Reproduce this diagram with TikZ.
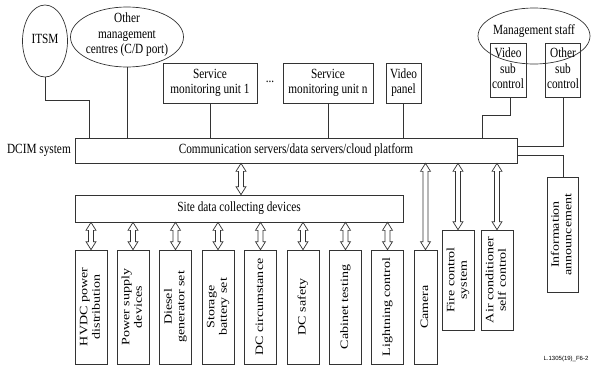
\documentclass[tikz,border=0pt]{standalone}
\usepackage{fontspec}
\setmainfont{Liberation Serif}
\usepackage{graphicx}
\usetikzlibrary{shapes.geometric,calc}
\newcommand\hlab[1]{\scalebox{1}[1.24]{\begin{tabular}{@{}c@{}}#1\end{tabular}}}
\newcommand\vlab[1]{\scalebox{1.24}[1]{\begin{tabular}{@{}c@{}}#1\end{tabular}}}
\tikzset{
  ln/.style={draw=black!80, line width=0.7pt},
  box/.style={ln, rectangle, inner sep=0pt, font=\fontsize{11.3}{12.5}\selectfont},
  ell/.style={ln, ellipse, inner sep=0pt, font=\fontsize{11.3}{12.5}\selectfont},
  lab/.style={inner sep=0pt, font=\fontsize{11.3}{12.5}\selectfont},
  dev/.style={box, minimum width=32pt, minimum height=114pt},
  vt/.style={rotate=90},
  darr/.style={to path={let \p1=(\tikztostart), \p2=(\tikztotarget) in
    (\x1,\y1) -- (\x1+5pt,\y1-8pt) -- (\x1+2.5pt,\y1-8pt) -- (\x1+2.5pt,\y2+8pt)
    -- (\x1+5pt,\y2+8pt) -- (\x1,\y2) -- (\x1-5pt,\y2+8pt) -- (\x1-2.5pt,\y2+8pt)
    -- (\x1-2.5pt,\y1-8pt) -- (\x1-5pt,\y1-8pt) -- cycle}}
}
\begin{document}
\begin{tikzpicture}[x=1pt,y=-1pt]
\useasboundingbox (0,0) rectangle (592,367);
% top ellipses
\node[ell, minimum width=45pt, minimum height=72pt] (itsm) at (45,41) {};
\node[lab] (itsmt) at (45,40) {\hlab{ITSM}};
\node[ell, minimum width=113pt, minimum height=60pt] (omc) at (127,37) {};
\node[lab] (omct) at (127,35) {\hlab{Other\\management\\centres (C/D port)}};
% service units
\node[box, minimum width=94pt, minimum height=40pt] (sm1) at (210,83) {\hlab{Service\\monitoring unit 1}};
\node[lab] (dots) at (270,79) {\hlab{...}};
\node[box, minimum width=90pt, minimum height=40pt] (smn) at (328,83) {\hlab{Service\\monitoring unit n}};
\node[box, minimum width=35pt, minimum height=40pt] (vp) at (403.5,83) {\hlab{Video\\panel}};
% management staff
\node[ell, minimum width=112pt, minimum height=56pt] (ms) at (534,36) {};
\node[lab] (mst) at (534,31) {\hlab{Management staff}};
\node[box, minimum width=36pt, minimum height=54pt] (vsc) at (508,70) {\hlab{Video\\sub\\control}};
\node[box, minimum width=35pt, minimum height=54pt] (osc) at (563,70) {\hlab{Other\\sub\\control}};
% main bar
\node[box, minimum width=442pt, minimum height=25pt] (bar) at (296,150.5) {\hlab{Communication servers/data servers/cloud platform}};
\node[lab, anchor=east] (dcim) at (71,150) {\hlab{DCIM system}};
\node[box, minimum width=328pt, minimum height=27pt] (site) at (239,208.5) {\hlab{Site data collecting devices}};
% devices
\node[dev] (d1) at (91,307) {};
\node[lab, vt] at (d1) {\vlab{HVDC power\\distribution}};
\node[dev] (d2) at (133,307) {};
\node[lab, vt] at (d2) {\vlab{Power supply\\devices}};
\node[dev] (d3) at (175.5,307) {};
\node[lab, vt] at (d3) {\vlab{Diesel\\generator set}};
\node[dev] (d4) at (218,307) {};
\node[lab, vt] at (d4) {\vlab{Storage\\battery set}};
\node[dev] (d5) at (260.5,307) {};
\node[lab, vt] at (d5) {\vlab{DC circumstance}};
\node[dev] (d6) at (303,307) {};
\node[lab, vt] at (d6) {\vlab{DC safety}};
\node[dev] (d7) at (345.5,307) {};
\node[lab, vt] at (d7) {\vlab{Cabinet testing}};
\node[dev] (d8) at (387.5,307) {};
\node[lab, vt] at (d8) {\vlab{Lightning control}};
\node[box, minimum width=23pt, minimum height=114pt] (cam) at (425.5,307) {};
\node[lab, vt] at (cam) {\vlab{Camera}};
\node[box, minimum width=32pt, minimum height=100pt] (fire) at (458,280) {};
\node[lab, vt] at (fire) {\vlab{Fire control\\system}};
\node[box, minimum width=32pt, minimum height=100pt] (ac) at (497,280) {};
\node[lab, vt] at (ac) {\vlab{Air conditioner\\self control}};
\node[box, minimum width=31pt, minimum height=115pt] (info) at (562.5,234.5) {};
\node[lab, vt] at (info) {\vlab{Information\\announcement}};
% figure id
\node[inner sep=0pt, font=\fontsize{6}{7}\selectfont\fontspec{Liberation Sans}] (fid) at (566,359) {L.1305(19)\_F6-2};
% connectors
\coordinate (c1) at (89,100);
\draw[ln] (itsm.south) |- (c1) -- (c1 |- bar.north);
\draw[ln] (omc.south) -- (omc.south |- bar.north);
\draw[ln] (sm1.south) -- (sm1.south |- bar.north);
\draw[ln] (smn.south) -- (smn.south |- bar.north);
\draw[ln] (vp.south) -- (vp.south |- bar.north);
\coordinate (v1) at (510,115);
\coordinate (v2) at (482,115);
\draw[ln] (v1 |- vsc.south) -- (v1) -- (v2) -- (v2 |- bar.north);
\coordinate (o1) at (563,146);
\draw[ln] (o1 |- osc.south) -- (o1) -- (o1 -| bar.east);
\coordinate (i1) at (563,155);
\draw[ln] (i1 -| bar.east) -- (i1) -- (i1 |- info.north);
% double arrows
\coordinate (a1) at (241,0);
\draw[ln] (a1 |- bar.south) to[darr] (a1 |- site.north);
\foreach \d in {d1,d2,d3,d4,d5,d6,d7,d8}{
  \draw[ln] (site.south -| \d.north) to[darr] (\d.north);
}
\foreach \d in {cam,fire,ac}{
  \draw[ln] (bar.south -| \d.north) to[darr] (\d.north);
}
\end{tikzpicture}
\end{document}
